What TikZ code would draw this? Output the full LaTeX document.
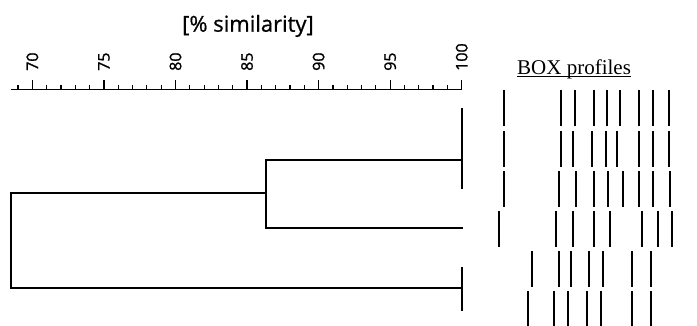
\documentclass[tikz,border=0pt]{standalone}
\usepackage{fontspec}
\usetikzlibrary{calc}
\setmainfont{Liberation Serif}
\newfontfamily\axisfont[FakeBold=1.2]{Open Sans}
\newfontfamily\titlefont[FakeBold=0.8]{Open Sans}
\begin{document}
\begin{tikzpicture}[x=1pt,y=-1pt,
  dline/.style={line width=2pt, line cap=rect},
  axline/.style={line width=1.2pt},
  band/.style={line width=2.3pt},
  ticklab/.style={rotate=90, anchor=west, inner sep=0pt, font=\axisfont\fontsize{16}{16}\selectfont}]
\useasboundingbox (0,0) rectangle (697,325);
\pgfmathsetmacro{\sc}{14.31}
% title
\node[font=\titlefont\fontsize{22}{22}\selectfont, anchor=base, inner sep=0pt] (title) at (248,31.7) {[\% similarity]};
% axis
\coordinate (axL) at (11,89.5);
\coordinate (axR) at (462,89.5);
\draw[axline] (axL) -- (axR);
\foreach \v in {69,...,99} {
  \draw[axline] ({461.7-(100-\v)*\sc},89.5) -- ++(0,-4.5);
}
\foreach \v in {70,75,...,100} {
  \draw[axline] ({461.7-(100-\v)*\sc},89.5) -- ++(0,-10);
  \node[ticklab] (l\v) at ({461.7-(100-\v)*\sc},71) {\v};
}
% dendrogram
\coordinate (t1) at (462,109);
\coordinate (t3) at (462,188);
\coordinate (a1) at (462,160);
\coordinate (b1) at (266,160);
\coordinate (b4) at (266,228);
\coordinate (a4) at (462,228);
\coordinate (b0) at (266,193);
\coordinate (r0) at (11,193);
\coordinate (r1) at (11,288);
\coordinate (a5) at (462,288);
\coordinate (t5) at (462,268);
\coordinate (t6) at (462,310);
\draw[dline] (t1) -- (t3);
\draw[dline] (a1) -- (b1) -- (b4) -- (a4);
\draw[dline] (b0) -- (r0) -- (r1) -- (a5);
\draw[dline] (t5) -- (t6);
% BOX profiles
\node[font=\fontsize{21}{21}\selectfont, anchor=base west, inner sep=0pt] (box) at (517,74) {BOX profiles};
\draw[line width=1pt] ($(box.base west)+(0,2)$) -- ($(box.base east)+(0,2)$);
% bands
\foreach \y/\xs in {
  90/{504,561,575,594.3,606.7,620,639,652.7,669.3},
  131/{504,561,572.7,591.7,606,617.3,639,652.7,669.3},
  171/{504,559,575.7,594.3,608.3,622.7,639,653.3,670},
  211/{499.3,556,572.7,594.3,610,641.7,658.3,672.3},
  251/{531.7,559,570.7,589.3,603.3,632.3,651},
  291/{527.7,554,568.3,586.7,600.7,632.3,651}} {
  \foreach \x in \xs {
    \draw[band] (\x,\y) -- (\x,\y+36);
  }
}
\end{tikzpicture}
\end{document}
